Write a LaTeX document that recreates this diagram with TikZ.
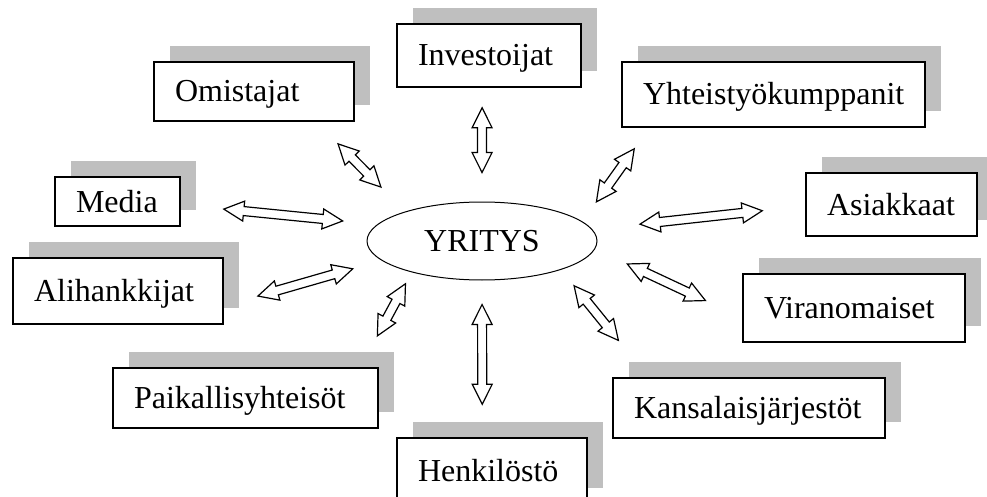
\documentclass[tikz,border=0pt]{standalone}
\usepackage{fontspec}
\setmainfont{Liberation Serif}
\usepackage{tikz}
\usetikzlibrary{shapes,calc,shadows}
\tikzstyle{box} = [draw, rectangle, line width=1.6pt, fill=white,
    inner xsep=21pt, text height=21pt, text depth=0pt, align=left,
    font=\fontsize{32pt}{38pt}\selectfont,
    drop shadow={shadow xshift=16pt, shadow yshift=16pt,
        opacity=1, fill=black!25}]
\tikzstyle{hub} = [draw, ellipse, line width=1pt, inner sep=0pt,
    minimum width=230pt, minimum height=78pt,
    font=\fontsize{32pt}{38pt}\selectfont]
\tikzset{biarrow/.style 2 args={draw, line width=1.2pt, fill=white,
    line join=miter, to path={
      ($(\tikztostart)!#1pt!(\tikztotarget)$) coordinate (ba1)
      ($(\tikztotarget)!#2pt!(\tikztostart)$) coordinate (ba2)
      ($(ba1)!20pt!(ba2)$) coordinate (bm1)
      ($(ba2)!20pt!(ba1)$) coordinate (bm2)
      (ba1) -- ($(bm1)!10pt!90:(ba2)$) -- ($(bm1)!4.5pt!90:(ba2)$)
      -- ($(bm2)!4.5pt!-90:(ba1)$) -- ($(bm2)!10pt!-90:(ba1)$)
      -- (ba2) -- ($(bm2)!10pt!90:(ba1)$) -- ($(bm2)!4.5pt!90:(ba1)$)
      -- ($(bm1)!4.5pt!-90:(ba2)$) -- ($(bm1)!10pt!-90:(ba2)$) -- cycle}}}

\begin{document}
\begin{tikzpicture}[x=1pt, y=-1pt]
    \useasboundingbox (0,0) rectangle (987,497);
    \node [hub] (yritys) at (482,241) {YRITYS};
    \node [box, text width=158pt, minimum height=59pt] (omist) at (254,91.5) {Omistajat};
    \node [box, text width=142pt, minimum height=63pt] (invest) at (489,55.5) {Investoijat};
    \node [box, text width=261pt, minimum height=65pt] (yhteis) at (773.5,94.5) {Yhteistyökumppanit};
    \node [box, text width=83pt, minimum height=49pt] (media) at (117.5,201.5) {Media};
    \node [box, text width=129pt, minimum height=63pt] (asiak) at (891.5,204.5) {Asiakkaat};
    \node [box, text width=168pt, minimum height=66pt] (alih) at (118,291) {Alihankkijat};
    \node [box, text width=180pt, minimum height=68pt] (viran) at (854,308) {Viranomaiset};
    \node [box, text width=223pt, minimum height=60pt] (paik) at (245.5,398) {Paikallisyhteisöt};
    \node [box, text width=230pt, minimum height=60pt] (kansa) at (749,408) {Kansalaisjärjestöt};
    \node [box, text width=148pt, minimum height=66pt] (henk) at (492,471) {Henkilöstö};
    \draw [biarrow={31.1}{34.4}] (omist.-26.57) to (yritys.159.73);
    \draw [biarrow={20}{29}] (invest.-102.53) to (yritys.north);
    \draw [biarrow={25.8}{24.1}] (yhteis.-165.58) to (yritys.11.77);
    \draw [biarrow={43.2}{34.7}] (media.-3.84) to (yritys.171.64);
    \draw [biarrow={43.2}{47.9}] (asiak.-179.33) to (yritys.6.86);
    \draw [biarrow={35.5}{30}] (alih.-8.13) to (yritys.-169.64);
    \draw [biarrow={35.6}{13}] (paik.15.89) to (yritys.-156.1);
    \draw [biarrow={33}{24}] (henk.106.86) to (yritys.south);
    \draw [biarrow={47.4}{20.6}] (kansa.163.82) to (yritys.-20.55);
    \draw [biarrow={40.6}{35.5}] (viran.-175.03) to (yritys.-4.81);
  \end{tikzpicture}
\end{document}
